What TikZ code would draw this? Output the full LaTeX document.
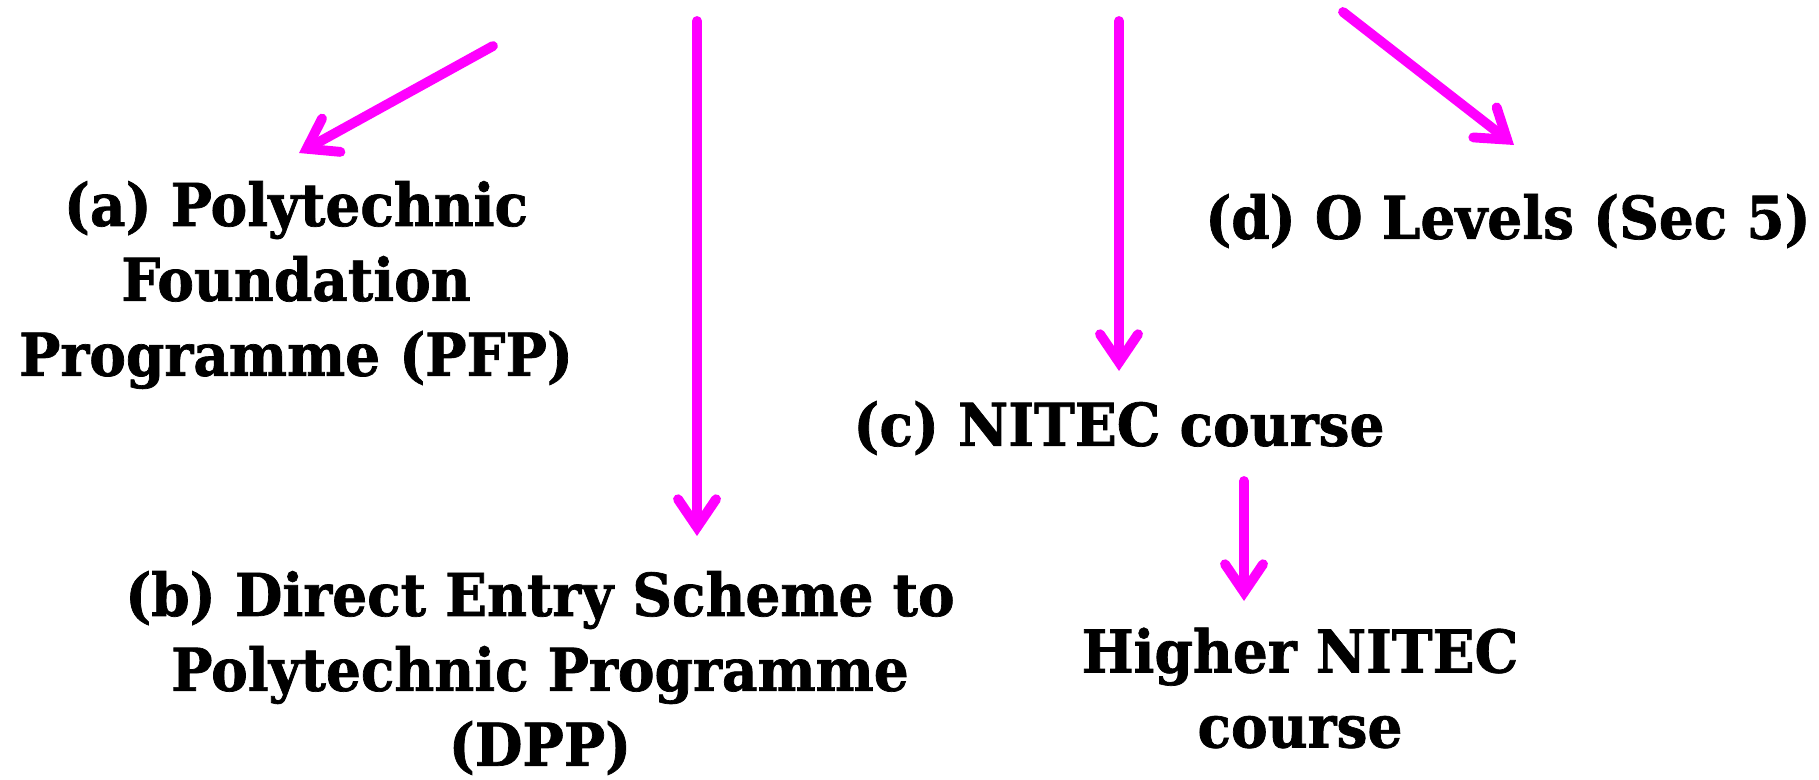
\documentclass[tikz,border=0pt]{standalone}
\usepackage{fontspec}
\setmainfont{DejaVu Serif}[BoldFeatures={FakeStretch=0.93,FakeBold=1.2}]
\usetikzlibrary{arrows.meta}
\definecolor{pinkarrow}{RGB}{255,0,255}
\tikzset{
	route/.style={draw=pinkarrow, line width=2.8pt, line cap=round,
		-{Straight Barb[length=2.8mm,width=3.8mm,line cap=round,line join=miter]}},
	label/.style={align=center, inner sep=0pt, font=\bfseries\fontsize{16.8}{21.3}\selectfont}
}
\begin{document}
\begin{tikzpicture}[x=0.01cm,y=-0.01cm]
			\useasboundingbox (0,0) rectangle (1819,779);
			% boxes of text
			\node[label] (pfp) at (296,285) {(a) Polytechnic\\Foundation\\Programme (PFP)};
			\node[label] (dpp) at (540,673) {(b) Direct Entry Scheme to\\Polytechnic Programme\\(DPP)};
			\node[label] (nitec) at (1119,428) {(c) NITEC course};
			\node[label] (olevel) at (1508,221) {(d) O Levels (Sec 5)};
			\node[label] (higher) at (1300,688) {Higher NITEC\\course};
			% free ends of the arrows
			\coordinate (startA) at (493,46);
			\coordinate (endA) at (299,153);
			\coordinate (startB) at (697,21);
			\coordinate (endB) at (697,536);
			\coordinate (startC) at (1119,21);
			\coordinate (endC) at (1119,371);
			\coordinate (startD) at (1343,12);
			\coordinate (endD) at (1514,145);
			\coordinate (startE) at (1244,481);
			\coordinate (endE) at (1244,601);
			% arrows
			\draw[route] (startA) -- (endA);
			\draw[route] (startB) -- (endB);
			\draw[route] (startC) -- (endC);
			\draw[route] (startD) -- (endD);
			\draw[route] (startE) -- (endE);
		\end{tikzpicture}
\end{document}
